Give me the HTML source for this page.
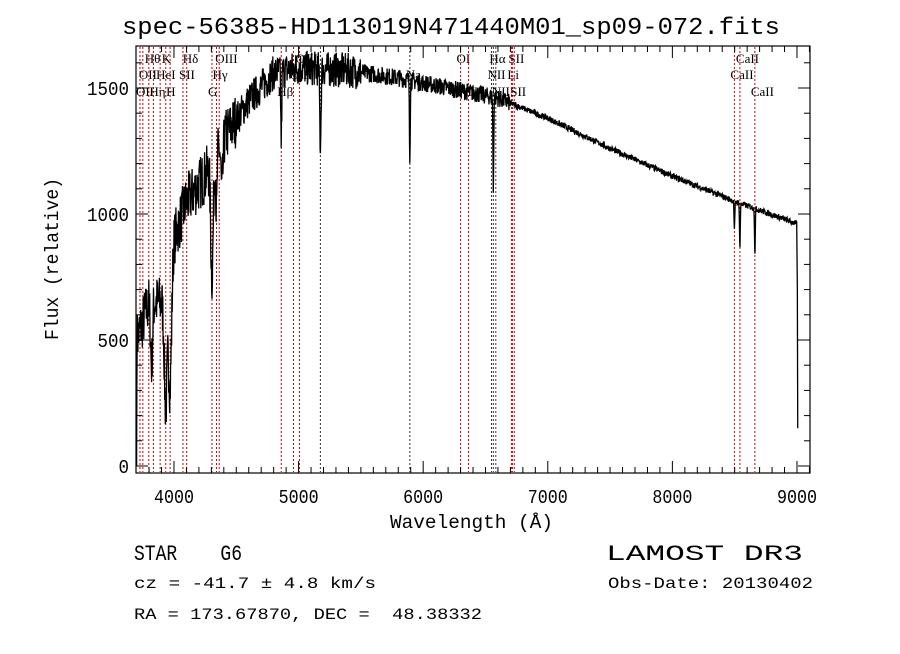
<!DOCTYPE html>
<html><head><meta charset="utf-8"><style>
body{margin:0;background:#fff;}
svg text{font-family:"Liberation Mono",monospace;white-space:pre;}
svg .ser{font-family:"Liberation Serif",serif;}
</style></head><body>
<svg id="s" width="900" height="649" xmlns="http://www.w3.org/2000/svg" xml:space="preserve">
<rect width="900" height="649" fill="#fff"/>
<text x="122" y="34" font-size="24" textLength="658" lengthAdjust="spacingAndGlyphs">spec-56385-HD113019N471440M01_sp09-072.fits</text>
<g id="lines"></g>
<polyline id="spec" fill="none" stroke="#000" stroke-width="1.3"/>
<rect x="136" y="46" width="674" height="427" fill="none" stroke="#000" stroke-width="1.2"/>
<g id="ticks" stroke="#000" stroke-width="1"></g>
<g id="labels"></g>
<text x="58" y="340" transform="rotate(-90 58 340)" font-size="19" textLength="162" lengthAdjust="spacingAndGlyphs">Flux (relative)</text>
<text x="390" y="528" font-size="19" textLength="163" lengthAdjust="spacingAndGlyphs">Wavelength (Å)</text>
<text x="134" y="560" font-size="22" textLength="108" lengthAdjust="spacingAndGlyphs">STAR    G6</text>
<text x="606" y="560" font-size="22" textLength="197" lengthAdjust="spacingAndGlyphs">LAMOST DR3</text>
<text x="134" y="588" font-size="16" textLength="242" lengthAdjust="spacingAndGlyphs">cz = -41.7 ± 4.8 km/s</text>
<text x="608" y="588" font-size="16" textLength="205" lengthAdjust="spacingAndGlyphs">Obs-Date: 20130402</text>
<text x="134" y="619" font-size="16" textLength="348" lengthAdjust="spacingAndGlyphs">RA = 173.67870, DEC =  48.38332</text>
</svg>
<script>
var NS="http://www.w3.org/2000/svg";
function X(w){return 136.6+(w-3700)*0.1246;}
function Y(v){return 466-v*0.252;}
function el(t,a,p,txt){var e=document.createElementNS(NS,t);for(var k in a)e.setAttribute(k,a[k]);if(txt!==undefined)e.textContent=txt;document.getElementById(p).appendChild(e);return e;}
for(var w=3800;w<=9100;w+=100){var big=w%1000==0;var l=big?12:6;
el('line',{x1:X(w),x2:X(w),y1:473,y2:473-l},'ticks');el('line',{x1:X(w),x2:X(w),y1:46,y2:46+l},'ticks');
if(big)el('text',{x:X(w)-20,y:503,'font-size':19,textLength:40,lengthAdjust:'spacingAndGlyphs'},'labels',w);}
for(var v=0;v<=1650;v+=100){var big=v%500==0;var l=big?12:6;
el('line',{x1:136,x2:136+l,y1:Y(v),y2:Y(v)},'ticks');el('line',{x1:810,x2:810-l,y1:Y(v),y2:Y(v)},'ticks');
if(big){var s=String(v);el('text',{x:129-s.length*10.5,y:Y(v)+7,'font-size':19,textLength:s.length*10.5,lengthAdjust:'spacingAndGlyphs'},'labels',s);}}
var L=[[3727,'OII',92,'r'],[3750,'OII',75,'r'],[3798,'Hθ',59,'r'],[3835,'Hη',92,'r'],[3889,'HeI',75,'r'],[3934,'K',59,'r'],[3969,'H',92,'r'],[4072,'SII',75,'r'],[4102,'Hδ',59,'r'],[4305,'G',92,'r'],[4341,'Hγ',75,'r'],[4363,'OIII',59,'r'],[4861,'Hβ',92,'r'],[4959,'OIII',75,'r'],[5007,'OIII',59,'r'],[5175,'',0,'k'],[5893,'Na',75,'k'],[6300,'OI',59,'r'],[6364,'OI',92,'r'],[6548,'NII',75,'k'],[6563,'Hα',59,'k'],[6583,'NII',92,'k'],[6708,'Li',75,'r'],[6716,'SII',59,'r'],[6731,'SII',92,'r'],[8498,'CaII',75,'r'],[8542,'CaII',59,'r'],[8662,'CaII',92,'r']];
L.forEach(function(a){var x=X(a[0]);el('line',{x1:x,x2:x,y1:47,y2:472,stroke:a[3]=='r'?'#c00':'#333','stroke-width':1,'stroke-dasharray':'2,2'},'lines');
if(a[1]){el('text',{x:x-4,y:a[2]+4,'font-size':13,'class':'ser'},'lines',a[1]);}});
var seed=7;function rnd(){seed=(seed*16807)%2147483647;return seed/2147483647;}
function cont(w){var P=[[3700,500],[3800,650],[3900,650],[4000,900],[4100,1050],[4250,1150],[4400,1300],[4600,1450],[4800,1560],[5000,1580],[5400,1570],[5800,1540],[6200,1500],[6600,1460],[7000,1380],[7500,1260],[8000,1150],[8500,1050],[8900,980],[9000,960]];
for(var i=0;i<P.length-1;i++)if(w<=P[i+1][0]){var t=(w-P[i][0])/(P[i+1][0]-P[i][0]);return P[i][1]+t*(P[i+1][1]-P[i][1]);}return 960;}
var D=[[3934,12,500],[3969,12,500],[4305,10,450],[4341,5,250],[4861,4,280],[5175,5,300],[5893,3,300],[6563,3,380],[8498,3,120],[8542,3,180],[8662,3,180],[3820,8,250],[4385,8,200]];
var pts=[];pts.push(X(3700)+','+Y(0));pts.push(X(3702)+','+Y(300));
for(var w=3703;w<=9000;w+=2.5){var c=cont(w);var amp=w<4500?110:w<5500?70:w<6700?35:12;var v=c+(rnd()-0.5)*2*amp;
D.forEach(function(d){v-=d[2]*Math.exp(-Math.pow((w-d[0])/d[1],2)/2);});
pts.push(X(w).toFixed(1)+','+Y(Math.max(v,0)).toFixed(1));}
pts.push(X(9003)+','+Y(700));pts.push(X(9006)+','+Y(150));
document.getElementById('spec').setAttribute('points',pts.join(' '));
</script>
</body></html>
